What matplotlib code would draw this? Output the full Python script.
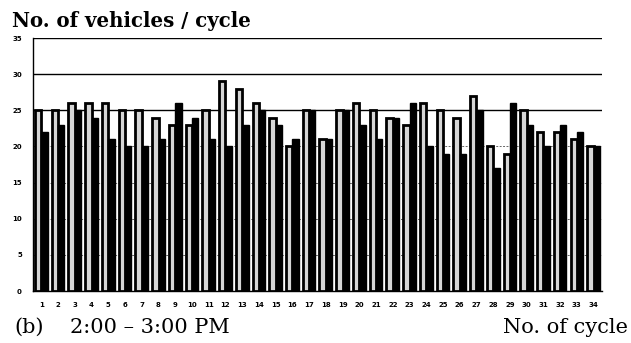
import matplotlib
matplotlib.use("Agg")
import matplotlib.pyplot as plt
import numpy as np

cycles = list(range(1, 35))
series_light = [25, 25, 26, 26, 26, 25, 25, 24, 23, 23, 25, 29, 28, 26, 24, 20, 25,
                21, 25, 26, 25, 24, 23, 26, 25, 24, 27, 20, 19, 25, 22, 22, 21, 20]
series_dark = [22, 23, 25, 24, 21, 20, 20, 21, 26, 24, 21, 20, 23, 25, 23, 21, 25,
               21, 25, 23, 21, 24, 26, 20, 19, 19, 25, 17, 26, 23, 20, 23, 22, 20]
y_ticks = [0, 5, 10, 15, 20, 25, 30, 35]

fig = plt.figure(figsize=(6.31, 3.43), dpi=100)
ax = fig.add_axes([0.0523, 0.1516, 0.9017, 0.7376])

x = np.array(cycles)
w = 0.38
ax.bar(x - w / 2, series_light, width=w, facecolor="#d6d6d6", edgecolor="black",
       linewidth=2.0, zorder=3)
ax.bar(x + w / 2, series_dark, width=w, facecolor="black", edgecolor="black",
       linewidth=1.0, zorder=3)

for yv in [5, 10, 15, 20]:
    ax.axhline(yv, color="#666666", linewidth=0.7, linestyle=(0, (2, 1.5)), zorder=1)
for yv in [25, 30, 35]:
    ax.axhline(yv, color="black", linewidth=1.0, zorder=1)

ax.set_xlim(0.5, 34.5)
ax.set_ylim(0, 35)
ax.set_yticks(y_ticks)
ax.set_yticklabels([str(v) for v in y_ticks], fontsize=5, fontweight="bold")
ax.set_xticks(cycles)
ax.set_xticklabels([str(c) for c in cycles], fontsize=5, fontweight="bold")
ax.tick_params(axis="both", length=0, pad=8)
for s in ["top", "right"]:
    ax.spines[s].set_visible(False)
ax.spines["left"].set_linewidth(1.0)
ax.spines["left"].set_linestyle((0, (4, 1)))
ax.spines["bottom"].set_linewidth(1.0)

fig.text(12 / 631, 1 - 27 / 343, "No. of vehicles / cycle", fontsize=14.2,
         fontweight="bold", family="DejaVu Serif", ha="left", va="baseline")
fig.text(14 / 631, 1 - 333 / 343, "(b)", fontsize=15,
         family="DejaVu Serif", ha="left", va="baseline")
fig.text(70 / 631, 1 - 333 / 343, "2:00 \u2013 3:00 PM", fontsize=15,
         family="DejaVu Serif", ha="left", va="baseline")
fig.text(628 / 631, 1 - 333 / 343, "No. of cycle", fontsize=15,
         family="DejaVu Serif", ha="right", va="baseline")

fig.savefig("out.png", dpi=100)
